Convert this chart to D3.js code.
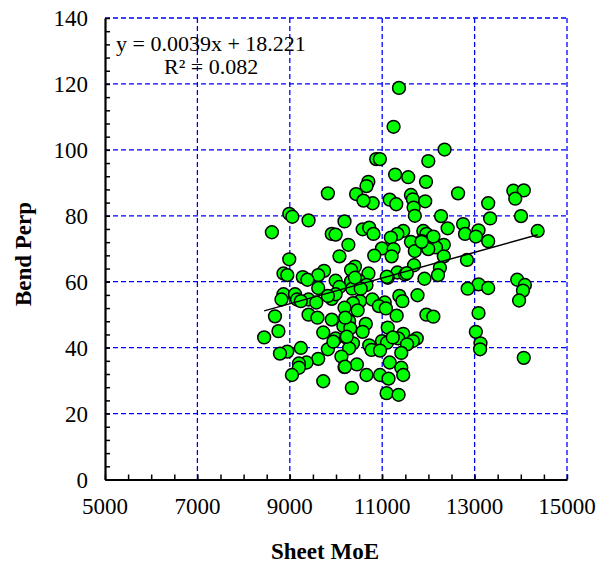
<!DOCTYPE html>
<html>
<head>
<meta charset="utf-8">
<script src="https://cdn.jsdelivr.net/npm/d3@7"></script>
<style>
  body { margin: 0; background: #fff; }
  text { font-family: "Liberation Serif", "Times New Roman", serif; fill: #000; }
</style>
</head>
<body>
<script>
// Sheet MoE (x) and Bend Perp (y)
const moe = [
  11363, 11246, 12350, 10870, 10950, 11998, 11280, 11563, 11948, 10700,
  10660, 9824, 10435, 12642, 13838, 14064, 13880, 11162, 11304, 10794,
  10594, 11622, 11664, 11680, 11706, 11931, 13294, 12274, 14005, 13336,
  8988, 9055, 9406, 10184, 12751, 12416, 13085, 14365, 8612, 9908,
  9992, 10577, 10719, 10811, 11455, 11329, 11187, 11890, 11957, 12793,
  13027, 12082, 11622, 11856, 12333, 12165, 13294, 10268, 10995, 11246,
  11706, 11998, 10828, 11204, 10075, 8988, 12333, 12835, 11689, 10410,
  12249, 10326, 9741, 8863, 8946, 10702, 11329, 11497, 9615, 9281,
  9381, 11120, 12207, 11915, 9992, 10326, 10502, 10660, 13922, 13085,
  14089, 13294, 12850, 9615, 10351, 10075, 14047, 8863, 9113, 11371,
  11764, 9156, 9908, 9406, 10786, 11438, 10518, 13963, 9573, 11054,
  10368, 10928, 10184, 10468, 13085, 9406, 8679, 11313, 11957, 12107,
  9598, 9908, 10284, 10644, 10159, 11120, 10309, 8754, 9724, 13027,
  11455, 9992, 10217, 11346, 11748, 11664, 10995, 11104, 11538, 10368,
  10719, 13127, 13119, 9239, 10284, 9824, 10769, 10953, 8946, 8787,
  11413, 10117, 14064, 9615, 9364, 9197, 11162, 10452, 10184, 11413,
  9197, 9046, 10660, 10953, 11137, 11455, 9724, 10343, 11095, 11355,
  8445, 8820, 9239, 10410, 10535, 11079, 9992, 9824, 10200, 10577,
  11229, 9943, 10233, 10196, 11532, 11099, 12108, 11854
];
const bend = [
  118.8, 107.0, 100.1, 97.2, 97.2, 96.6, 92.5, 91.7, 90.3, 90.3,
  89.0, 86.8, 86.6, 86.8, 87.6, 87.7, 85.2, 84.9, 83.5, 83.8,
  84.6, 86.3, 85.0, 82.5, 80.0, 84.4, 83.8, 79.9, 79.9, 79.2,
  80.6, 79.7, 78.6, 78.3, 77.5, 76.2, 75.6, 75.4, 75.0, 74.5,
  74.3, 75.9, 76.4, 74.5, 75.4, 74.5, 73.4, 75.4, 74.5, 74.5,
  73.7, 73.2, 72.1, 72.3, 71.2, 70.4, 72.3, 71.2, 70.1, 69.9,
  69.3, 69.9, 67.9, 67.7, 67.7, 66.8, 67.7, 66.6, 65.0, 64.6,
  64.2, 63.6, 63.3, 62.5, 62.0, 62.5, 62.8, 62.2, 62.0, 61.4,
  60.6, 61.2, 62.0, 60.9, 60.3, 60.1, 60.3, 59.0, 60.6, 59.2,
  59.0, 58.1, 57.9, 58.1, 57.9, 58.4, 57.3, 56.2, 56.2, 55.7,
  55.9, 54.6, 54.8, 54.6, 54.6, 54.1, 54.1, 54.3, 53.7, 53.7,
  53.5, 52.6, 52.1, 51.3, 50.5, 50.0, 49.5, 49.7, 50.0, 49.4,
  49.1, 48.5, 48.1, 47.2, 46.6, 46.1, 45.9, 45.0, 44.6, 44.8,
  44.2, 42.8, 43.1, 42.8, 42.8, 42.0, 42.0, 41.5, 41.0, 41.3,
  40.7, 41.3, 39.5, 39.9, 39.8, 39.5, 39.3, 39.1, 38.8, 38.2,
  38.4, 37.3, 36.9, 36.6, 35.5, 35.2, 35.5, 34.9, 34.1, 33.9,
  33.9, 31.7, 31.7, 31.7, 30.6, 31.7, 29.8, 27.8, 26.2, 25.7,
  43.1, 54.6, 54.1, 61.2, 57.9, 51.9, 56.2, 55.7, 49.1, 44.8,
  43.1, 41.8, 43.3, 34.2, 62.6, 61.5, 73.7, 72.1
];

// linear fit shown on the chart
const trendCoef = [0.0039, 18.221];
const eqLabels = ["y = 0.0039x + 18.221", "R\u00b2 = 0.082"];

const xTicks = [5000, 7000, 9000, 11000, 13000, 15000];
const yTicks = [0, 20, 40, 60, 80, 100, 120, 140];

const width = 606, height = 566;
const plotL = 105, plotR = 567, plotT = 18, plotB = 479.5;

const svg = d3.select("body").append("svg")
    .attr("width", width)
    .attr("height", height);

const x = d3.scaleLinear().domain([5000, 15000]).range([plotL, plotR]);
const y = d3.scaleLinear().domain([0, 140]).range([plotB, plotT]);

// dashed blue grid
svg.append("g").selectAll("line")
    .data(xTicks.slice(1))
  .enter().append("line")
    .attr("x1", d => x(d)).attr("x2", d => x(d))
    .attr("y1", plotT).attr("y2", plotB)
    .attr("stroke", "#0000ff")
    .attr("stroke-width", 1.3)
    .attr("stroke-dasharray", "5,3");

svg.append("g").selectAll("line")
    .data(yTicks.slice(1))
  .enter().append("line")
    .attr("x1", plotL).attr("x2", plotR)
    .attr("y1", d => y(d)).attr("y2", d => y(d))
    .attr("stroke", "#0000ff")
    .attr("stroke-width", 1.3)
    .attr("stroke-dasharray", "5,3");

// axes with inward ticks
const xAxis = svg.append("g")
    .attr("transform", "translate(0," + plotB + ")")
    .call(d3.axisBottom(x).tickValues(d3.range(5000, 15001, 500)).tickSizeInner(-5).tickSizeOuter(0).tickFormat(""));
xAxis.select(".domain").attr("stroke-width", 2.2);
xAxis.selectAll(".tick line").attr("stroke-width", 1.5);

const yAxis = svg.append("g")
    .attr("transform", "translate(" + plotL + ",0)")
    .call(d3.axisLeft(y).tickValues(d3.range(0, 141, 4)).tickSizeInner(-5).tickSizeOuter(0).tickFormat(""));
yAxis.select(".domain").attr("stroke-width", 2.2);
yAxis.selectAll(".tick line").attr("stroke-width", 1.5);

// tick labels
svg.append("g").selectAll("text")
    .data(xTicks)
  .enter().append("text")
    .attr("x", d => x(d))
    .attr("y", 514)
    .attr("text-anchor", "middle")
    .style("font-size", "23px")
    .text(d => d);

svg.append("g").selectAll("text")
    .data(yTicks)
  .enter().append("text")
    .attr("x", 88)
    .attr("y", d => y(d) + 8)
    .attr("text-anchor", "end")
    .style("font-size", "23px")
    .text(d => d);

// axis titles
svg.append("text")
    .attr("x", 325)
    .attr("y", 559)
    .attr("text-anchor", "middle")
    .style("font-size", "23px")
    .style("font-weight", "bold")
    .text("Sheet MoE");

svg.append("text")
    .attr("transform", "translate(31,254) rotate(-90)")
    .attr("text-anchor", "middle")
    .style("font-size", "23px")
    .style("font-weight", "bold")
    .text("Bend Perp");

// points
const pts = moe.map((m, i) => ({ x: m, y: bend[i] }));
svg.append("g").selectAll("circle")
    .data(pts)
  .enter().append("circle")
    .attr("cx", d => x(d.x))
    .attr("cy", d => y(d.y))
    .attr("r", 6.4)
    .attr("fill", "#00ff00")
    .attr("stroke", "#000")
    .attr("stroke-width", 1.5);

// trend line over the data range
const ext = d3.extent(moe);
svg.append("line")
    .attr("x1", x(ext[0])).attr("y1", y(trendCoef[0] * ext[0] + trendCoef[1]))
    .attr("x2", x(ext[1])).attr("y2", y(trendCoef[0] * ext[1] + trendCoef[1]))
    .attr("stroke", "#000")
    .attr("stroke-width", 1.5);

// equation
svg.append("text")
    .attr("x", 116).attr("y", 50.5)
    .style("font-size", "22px")
    .text(eqLabels[0]);
svg.append("text")
    .attr("x", 164).attr("y", 74)
    .style("font-size", "22px")
    .text(eqLabels[1]);
</script>
</body>
</html>
